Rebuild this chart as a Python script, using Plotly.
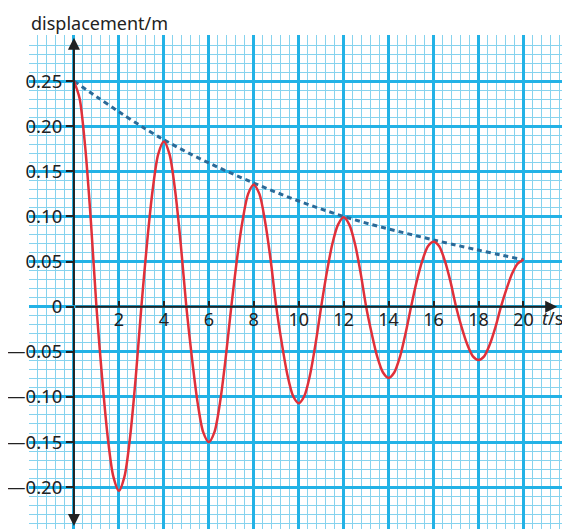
import plotly.graph_objects as go

# time (s) and displacement (m)
t = [i * 0.25 for i in range(81)]
disp = [0.25, 0.231, 0.177, 0.096, 0.0,
        -0.078, -0.144, -0.188, -0.204, -0.188, -0.144, -0.078, 0.0,
        0.070, 0.129, 0.169, 0.183, 0.169, 0.129, 0.070, 0.0,
        -0.057, -0.106, -0.139, -0.150, -0.139, -0.106, -0.057, 0.0,
        0.052, 0.095, 0.125, 0.135, 0.125, 0.095, 0.052, 0.0,
        -0.041, -0.076, -0.099, -0.107, -0.099, -0.076, -0.041, 0.0,
        0.038, 0.070, 0.091, 0.099, 0.091, 0.070, 0.038, 0.0,
        -0.030, -0.056, -0.073, -0.079, -0.073, -0.056, -0.030, 0.0,
        0.028, 0.051, 0.067, 0.072, 0.067, 0.051, 0.028, 0.0,
        -0.023, -0.042, -0.055, -0.059, -0.055, -0.042, -0.023, 0.0,
        0.020, 0.037, 0.048, 0.052]

env_t = [0, 4, 8, 12, 16, 20]
env_v = [0.25, 0.185, 0.137, 0.100, 0.074, 0.052]

x_ticks = [2, 4, 6, 8, 10, 12, 14, 16, 18, 20]
y_ticks = [0.25, 0.20, 0.15, 0.10, 0.05, 0, -0.05, -0.10, -0.15, -0.20]
y_text = ["0.25", "0.20", "0.15", "0.10", "0.05", "0", "\u20140.05", "\u20140.10", "\u20140.15", "\u20140.20"]

XR = [-2, 22.07]
YR = [-0.2464, 0.3011]
FONT = "Noto Sans"
INK = "#222222"

fig = go.Figure()
fig.add_trace(go.Scatter(x=env_t, y=env_v, mode="lines",
                         line=dict(color="#2a6a98", width=3, dash="5px,4px", shape="spline"),
                         hoverinfo="skip", showlegend=False))
fig.add_trace(go.Scatter(x=t, y=disp, mode="lines",
                         line=dict(color="#e0303a", width=2.5, shape="spline", smoothing=0.8),
                         showlegend=False))
# invisible trace to carry overlay axes
fig.add_trace(go.Scatter(x=[XR[0]], y=[YR[0]], xaxis="x2", yaxis="y2", mode="markers",
                         marker=dict(opacity=0), hoverinfo="skip", showlegend=False))

grid_major = "#22b2e6"
grid_minor = "#86d3ee"

fig.update_layout(
    width=570, height=529,
    margin=dict(l=21, r=8, t=27, b=8, autoexpand=False),
    paper_bgcolor="white", plot_bgcolor="white",
    font=dict(family=FONT, color=INK, size=17),
    xaxis=dict(range=XR, tick0=0, dtick=2, showgrid=True, gridcolor=grid_major, gridwidth=2.5,
               minor=dict(dtick=0.4, tick0=0, showgrid=True, gridcolor=grid_minor, gridwidth=1),
               showticklabels=False, ticks="", zeroline=False, showline=False, fixedrange=True,
               automargin=False),
    yaxis=dict(range=YR, tick0=0, dtick=0.05, showgrid=True, gridcolor=grid_major, gridwidth=2.5,
               minor=dict(dtick=0.01, tick0=0, showgrid=True, gridcolor=grid_minor, gridwidth=1),
               showticklabels=False, ticks="", zeroline=False, showline=False, fixedrange=True,
               automargin=False),
    xaxis2=dict(range=XR, overlaying="x", anchor="free", position=(0 - YR[0]) / (YR[1] - YR[0]),
                tickvals=x_ticks, ticktext=[str(v) for v in x_ticks], ticks="inside", ticklen=6, tickwidth=1.5,
                tickcolor=INK, showgrid=False, zeroline=False, showline=False, automargin=False,
                tickfont=dict(family=FONT, size=18, color=INK), fixedrange=True),
    yaxis2=dict(range=YR, overlaying="y", anchor="free", position=(0 - XR[0]) / (XR[1] - XR[0]), side="left",
                tickvals=y_ticks, ticktext=y_text, ticks="outside", ticklen=8, tickwidth=1.5,
                tickcolor=INK, showgrid=False, zeroline=False, showline=False, automargin=False,
                tickfont=dict(family=FONT, size=18.5, color=INK), fixedrange=True),
)

arrow = dict(showarrow=True, arrowhead=2, arrowsize=1.2, arrowwidth=2, arrowcolor=INK,
             axref="x", ayref="y", xref="x", yref="y", text="")
fig.add_annotation(x=0, y=0.298, ax=0, ay=0, **arrow)
fig.add_annotation(x=0, y=-0.243, ax=0, ay=0, **arrow)
fig.add_annotation(x=21.5, y=0, ax=0, ay=0, **arrow)

fig.add_annotation(text="displacement/m", xref="paper", yref="paper", x=0.0, y=1.0526, xanchor="left",
                   yanchor="top", showarrow=False, font=dict(family=FONT, size=18, color=INK))
fig.add_annotation(text="<i>t</i>/s", xref="x", yref="y", x=21.3, y=-0.013, xanchor="center", yanchor="middle",
                   showarrow=False, font=dict(family=FONT, size=18, color=INK))

fig.write_html("out.html")
